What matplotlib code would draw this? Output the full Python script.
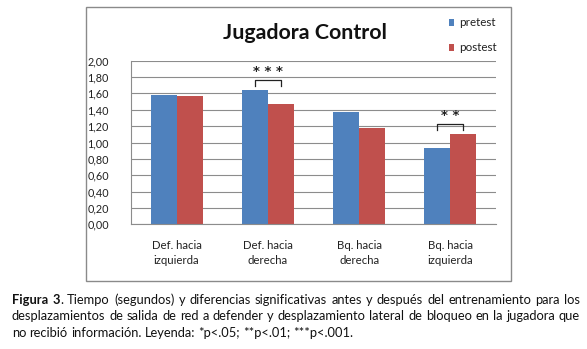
import matplotlib

matplotlib.use("Agg")
import matplotlib.pyplot as plt
import numpy as np
from matplotlib.patches import Rectangle

categories = ["Def. hacia\nizquierda", "Def. hacia\nderecha", "Bq. hacia\nderecha", "Bq. hacia\nizquierda"]
pretest = [1.58, 1.64, 1.37, 0.93]
postest = [1.57, 1.47, 1.18, 1.10]
# significance: (category index, stars)
signif = [(1, "* * *"), (3, "* *")]
yticks = [0.0, 0.2, 0.4, 0.6, 0.8, 1.0, 1.2, 1.4, 1.6, 1.8, 2.0]

caption = [
    [[("Figura", True)], [("3", True), (".", False)], "Tiempo", "(segundos)", "y", "diferencias",
     "significativas", "antes", "y", "después", "del", "entrenamiento", "para", "los"],
    "desplazamientos de salida de red a defender y desplazamiento lateral de bloqueo en la jugadora que".split(),
    "no recibió información. Leyenda: *p<.05; **p<.01; ***p<.001.".split(),
]

BLUE = "#4F81BD"
RED = "#C0504D"
GRID = "#8C8C8C"
FONT = "Lato"

W, H = 587, 349
fig = plt.figure(figsize=(W / 100, H / 100), dpi=100)
plt.rcParams["font.family"] = [FONT, "DejaVu Sans"]


def fx(px):
    return px / W


def fy(py):
    return 1 - py / H


# outer chart frame
fig.patches.append(Rectangle((fx(86), fy(281)), fx(511) - fx(86), fy(7) - fy(281),
                             transform=fig.transFigure, fill=False, ec="#8A8A8A", lw=1.0))

ax = fig.add_axes([fx(131), fy(224.3), fx(496) - fx(131), fy(60.7) - fy(224.3)])
x = np.arange(len(categories))
w = 1 / 3.5
ax.bar(x - w / 2, pretest, w, color=BLUE, label="pretest", zorder=3)
ax.bar(x + w / 2, postest, w, color=RED, label="postest", zorder=3)

ax.set_xlim(-0.5, len(categories) - 0.5)
ax.set_ylim(0, 2.0)
ax.set_yticks(yticks)
ax.set_yticklabels([f"{v:.2f}".replace(".", ",") for v in yticks], fontsize=7.8, color="#222222")
ax.tick_params(axis="y", length=0, pad=16)
ax.set_xticks(x)
ax.set_xticklabels(categories, fontsize=8.2, color="#222222", linespacing=1.45)
ax.tick_params(axis="x", length=0, pad=11)
ax.grid(axis="y", color=GRID, lw=0.8, zorder=0)
for s in ("top", "right"):
    ax.spines[s].set_visible(False)
for s in ("left", "bottom"):
    ax.spines[s].set_color(GRID)
    ax.spines[s].set_linewidth(0.8)
    ax.spines[s].set_zorder(4)

# significance brackets between pre/post bars
for i, stars in signif:
    top = max(pretest[i], postest[i]) + 0.13
    ax.plot([i - w / 2, i - w / 2, i + w / 2, i + w / 2], [top - 0.075, top, top, top - 0.075],
            color="#222222", lw=0.9, zorder=5)
    ax.text(i, top + 0.02, stars, ha="center", va="bottom", fontsize=9.5, family="DejaVu Sans",
            fontweight="bold", color="#222222", zorder=5)

fig.text(fx(305), fy(33), "Jugadora Control", ha="center", va="center", fontsize=15.4,
         fontweight="bold", color="#111111")

fig.legend(loc="upper left", bbox_to_anchor=(fx(438), fy(7)), frameon=False, fontsize=8.4,
           handlelength=0.5, handleheight=0.5, handletextpad=0.45, labelspacing=1.2,
           labelcolor="#222222")

# caption, justified across the page width
renderer = fig.canvas.get_renderer()
x0, x1 = 12, 580
baselines = [304, 320.5, 337]
cap_fs = 9.3
for li, words in enumerate(caption):
    pieces = []
    widths = []
    for word in words:
        segs = word if isinstance(word, list) else [(word, False)]
        wp = []
        for txt, bold in segs:
            t = fig.text(0, fy(baselines[li]), txt, fontsize=cap_fs, va="baseline",
                         fontweight="bold" if bold else "normal", color="#111111")
            wpx = t.get_window_extent(renderer).width
            wp.append((t, wpx))
        pieces.append(wp)
        widths.append(sum(p[1] for p in wp))
    last = li == len(caption) - 1
    space = fig.text(0, 0, "a b", fontsize=cap_fs).get_window_extent(renderer).width - \
        fig.text(0, 0, "ab", fontsize=cap_fs).get_window_extent(renderer).width
    for t in fig.texts[-2:]:
        t.remove()
    gap = space if last else (x1 - x0 - sum(widths)) / (len(words) - 1)
    cx = x0
    for wp in pieces:
        for t, wpx in wp:
            t.set_x(fx(cx))
            cx += wpx
        cx += gap

fig.savefig("out.png", dpi=100, facecolor="white")
